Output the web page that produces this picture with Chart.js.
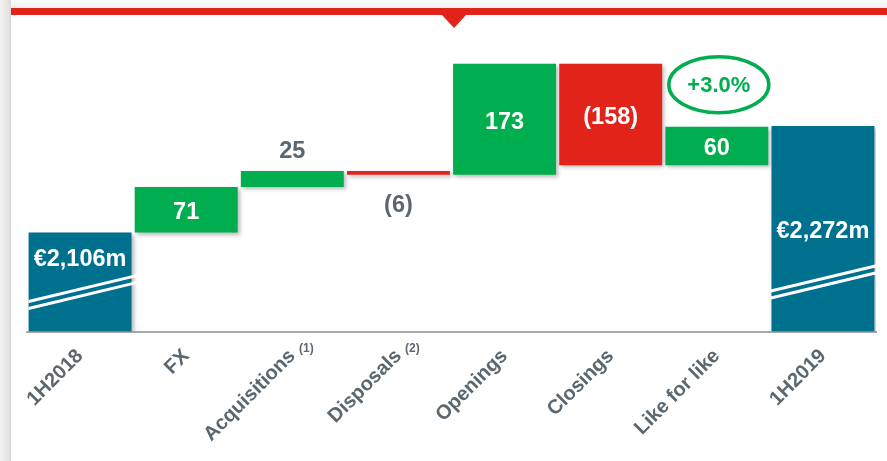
<!DOCTYPE html>
<html>
<head>
<meta charset="utf-8">
<title>Revenue bridge 1H2018 - 1H2019</title>
<script src="https://cdn.jsdelivr.net/npm/chart.js@4.4.1/dist/chart.umd.min.js"></script>
<style>
  html, body { margin: 0; padding: 0; background: #fff; }
  #wrap { position: relative; width: 887px; height: 461px; background: #fff; overflow: hidden; }
  #edge { position: absolute; left: 0; top: 0; width: 11px; height: 461px;
          background: linear-gradient(to right, #f3f3f3, #e4e4e4 75%, #d9d9d9); }
  #topShade { position: absolute; left: 11px; top: 0; right: 0; height: 8px;
              background: linear-gradient(to bottom, #fbfbfb, #efefef); }
  #redBar { position: absolute; left: 11px; top: 8px; right: 0; height: 7px; background: #e2231a; }
  #notch { position: absolute; left: 442px; top: 15px; width: 0; height: 0;
           border-left: 12px solid transparent; border-right: 12px solid transparent;
           border-top: 13px solid #e2231a; }
  canvas { position: absolute; left: 0; top: 0; }
</style>
</head>
<body>
<div id="wrap">
  <div id="edge"></div>
  <div id="topShade"></div>
  <div id="redBar"></div>
  <div id="notch"></div>
  <canvas id="bridge" width="887" height="461"></canvas>
</div>
<script>
// Bridge data (EUR m)
const categories = ["1H2018", "FX", "Acquisitions", "Disposals", "Openings", "Closings", "Like for like", "1H2019"];
const footnotes = ["", "", "(1)", "(2)", "", "", "", ""];
const startValue = 2106;
const endValue = 2272;
const steps = [71, 25, -6, 173, -158, 60];
const valueLabels = ["€2,106m", "71", "25", "(6)", "173", "(158)", "60", "€2,272m"];
const lflGrowth = "+3.0%";

// broken axis: bars for the totals start here
const AXIS_MIN = 1952;
const AXIS_MAX = 2406;

const TEAL = "#00708f";
const GREEN = "#00ad4f";
const RED = "#e2231a";
const GREY_TEXT = "#5b6770";
const FONT = "'Liberation Sans', Arial, sans-serif";

// floating bars
const ranges = [[AXIS_MIN, startValue]];
const colors = [TEAL];
let running = startValue;
steps.forEach(function (s) {
  ranges.push([running, running + s]);
  colors.push(s >= 0 ? GREEN : RED);
  running += s;
});
ranges.push([AXIS_MIN, endValue]);
colors.push(TEAL);

// soft shadow under the bars
const barShadow = {
  id: "barShadow",
  beforeDatasetDraw(chart) {
    const ctx = chart.ctx;
    ctx.save();
    ctx.shadowColor = "rgba(0,0,0,0.28)";
    ctx.shadowBlur = 4;
    ctx.shadowOffsetX = 2;
    ctx.shadowOffsetY = 2;
  },
  afterDatasetDraw(chart) {
    chart.ctx.restore();
  }
};

// white break marks on the two total bars, value labels, footnotes, LfL bubble
const decorations = {
  id: "decorations",
  afterDatasetsDraw(chart) {
    const ctx = chart.ctx;
    const bars = chart.getDatasetMeta(0).data;
    const bottom = chart.chartArea.bottom;

    // axis break lines
    const breaks = [{ i: 0, rise: 30, pre: 0, post: 6 }, { i: bars.length - 1, rise: 38, pre: 11, post: 2 }];
    ctx.save();
    ctx.strokeStyle = "#ffffff";
    ctx.lineWidth = 3;
    breaks.forEach(function (b) {
      const bar = bars[b.i];
      const half = bar.width / 2;
      const x0 = bar.x - half - b.pre;
      const x1 = bar.x + half + b.post;
      const slope = 0.24;
      [0, 7].forEach(function (gap) {
        const y0 = bottom - b.rise + gap;
        ctx.beginPath();
        ctx.moveTo(x0, y0);
        ctx.lineTo(x1, y0 - slope * (x1 - x0));
        ctx.stroke();
      });
    });
    ctx.restore();

    // value labels
    ctx.save();
    ctx.font = "bold 23.5px " + FONT;
    ctx.textAlign = "center";
    ctx.textBaseline = "middle";
    bars.forEach(function (bar, i) {
      const top = Math.min(bar.y, bar.base);
      const bot = Math.max(bar.y, bar.base);
      let y;
      let color = "#ffffff";
      if (i === 0) {
        y = top + 27;
      } else if (bot - top < 20) {
        color = GREY_TEXT;
        y = ranges[i][1] >= ranges[i][0] ? top - 19 : bot + 31;
      } else {
        y = (top + bot) / 2 + 3;
      }
      ctx.fillStyle = color;
      ctx.fillText(valueLabels[i], bar.x, y);
    });
    ctx.restore();

    // like-for-like growth bubble
    const lfl = bars[6];
    const lflTop = Math.min(lfl.y, lfl.base);
    const cx = lfl.x + 2;
    const cy = lflTop - 42;
    ctx.save();
    ctx.strokeStyle = GREEN;
    ctx.lineWidth = 3.5;
    ctx.beginPath();
    ctx.ellipse(cx, cy, 50, 28, 0, 0, Math.PI * 2);
    ctx.stroke();
    ctx.fillStyle = GREEN;
    ctx.font = "bold 22px " + FONT;
    ctx.textAlign = "center";
    ctx.textBaseline = "middle";
    ctx.fillText(lflGrowth, cx, cy + 1);
    ctx.restore();

    // footnote markers next to the rotated tick labels
    const xScale = chart.scales.x;
    ctx.save();
    ctx.font = "bold 12px " + FONT;
    ctx.fillStyle = GREY_TEXT;
    ctx.textAlign = "center";
    ctx.textBaseline = "middle";
    footnotes.forEach(function (f, i) {
      if (!f) return;
      ctx.fillText(f, xScale.getPixelForTick(i) + 14, bottom + 17);
    });
    ctx.restore();
  }
};

new Chart(document.getElementById("bridge"), {
  type: "bar",
  data: {
    labels: categories,
    datasets: [{
      data: ranges,
      backgroundColor: colors,
      borderWidth: 0,
      borderSkipped: false,
      barPercentage: 0.97,
      categoryPercentage: 1
    }]
  },
  options: {
    responsive: false,
    animation: false,
    devicePixelRatio: 1,
    layout: { padding: { left: 27, right: 11, top: 40, bottom: 0 } },
    plugins: {
      legend: { display: false },
      tooltip: { enabled: false }
    },
    scales: {
      x: {
        grid: { display: false, drawTicks: false },
        border: { display: true, color: "#a8a8a8", width: 2 },
        ticks: {
          color: GREY_TEXT,
          font: { family: FONT, size: 20, weight: "bold" },
          minRotation: 45,
          maxRotation: 45,
          autoSkip: false,
          padding: 13
        },
        afterFit(scale) { scale.height = 129.5; }
      },
      y: {
        display: false,
        min: AXIS_MIN,
        max: AXIS_MAX
      }
    }
  },
  plugins: [barShadow, decorations]
});
</script>
</body>
</html>
